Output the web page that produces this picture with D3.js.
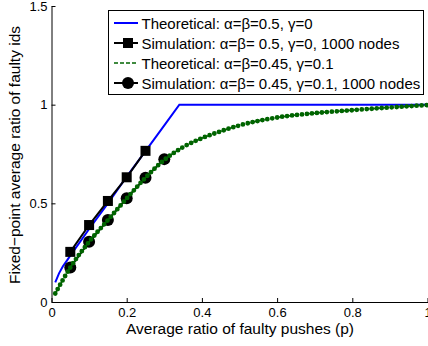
<!DOCTYPE html>
<html>
<head>
<meta charset="utf-8">
<script src="https://cdn.jsdelivr.net/npm/d3@7"></script>
<style>
  body { margin: 0; background: #fff; }
  svg { display: block; font-family: "Liberation Sans", Arial, Helvetica, sans-serif; }
</style>
</head>
<body>
<svg id="chart" width="428" height="346"></svg>
<script>
// values
var xTicks = [0, 0.2, 0.4, 0.6, 0.8, 1]
var yTicks = [0, 0.5, 1, 1.5]

// theoretical, alpha=beta=0.5, gamma=0
var theoryA = [
  [0.01, 0.10], [0.02, 0.145], [0.03, 0.18], [0.04, 0.207], [0.05, 0.235],
  [0.1, 0.37], [0.15, 0.50], [0.2, 0.635], [0.25, 0.765], [0.3, 0.895],
  [0.34, 1.0], [1.0, 1.0]
]
// simulation, alpha=beta=0.5, gamma=0
var simA = [
  [0.05, 0.254], [0.1, 0.39], [0.15, 0.512], [0.2, 0.632], [0.25, 0.766]
]
// theoretical, alpha=beta=0.45, gamma=0.1
var theoryB = [
  [0.01, 0.043], [0.05, 0.175], [0.1, 0.305], [0.15, 0.415], [0.2, 0.525],
  [0.25, 0.63], [0.3, 0.72], [0.35, 0.785], [0.4, 0.83], [0.45, 0.865],
  [0.5, 0.895], [0.6, 0.935], [0.7, 0.957], [0.8, 0.972], [0.9, 0.986],
  [1.0, 0.998]
]
// simulation, alpha=beta=0.45, gamma=0.1
var simB = [
  [0.05, 0.175], [0.1, 0.305], [0.15, 0.415], [0.2, 0.526], [0.25, 0.63], [0.3, 0.724]
]

var legendLabels = [
  'Theoretical: \u03b1=\u03b2=0.5, \u03b3=0',
  'Simulation: \u03b1=\u03b2= 0.5, \u03b3=0, 1000 nodes',
  'Theoretical: \u03b1=\u03b2=0.45, \u03b3=0.1',
  'Simulation: \u03b1=\u03b2= 0.45, \u03b3=0.1, 1000 nodes'
]

var green = '#006400'
var svg = d3.select('#chart')

var x = d3.scaleLinear().domain([0, 1]).range([51.5, 427.5])
var y = d3.scaleLinear().domain([0, 1.5]).range([302, 6])

var line = d3.line()
  .x(function (d) { return x(d[0]) })
  .y(function (d) { return y(d[1]) })

var smooth = d3.line()
  .curve(d3.curveMonotoneX)
  .x(function (d) { return x(d[0]) })
  .y(function (d) { return y(d[1]) })

// axes
svg.append('g')
  .attr('transform', 'translate(0,' + y(0) + ')')
  .call(d3.axisBottom(x).tickValues(xTicks).tickFormat(d3.format('~g'))
    .tickSizeInner(-4).tickSizeOuter(0).tickPadding(6))

svg.append('g')
  .attr('transform', 'translate(' + x(0) + ',0)')
  .call(d3.axisLeft(y).tickValues(yTicks).tickFormat(d3.format('~g'))
    .tickSizeInner(-4).tickSizeOuter(0).tickPadding(4))

svg.selectAll('.domain').attr('stroke', '#000')
svg.selectAll('.tick line').attr('stroke', '#000')
svg.selectAll('.tick text').attr('fill', '#000').attr('font-size', 13)
  .attr('font-family', '"Liberation Sans", Arial, sans-serif')

// blue theoretical
svg.append('path')
  .attr('d', line(theoryA))
  .attr('fill', 'none')
  .attr('stroke', '#0000ff')
  .attr('stroke-width', 2)

// squares
svg.append('path')
  .attr('d', line(simA))
  .attr('fill', 'none')
  .attr('stroke', '#000')
  .attr('stroke-width', 2)

svg.selectAll('.sq').data(simA)
  .enter().append('rect')
    .attr('class', 'sq')
    .attr('x', function (d) { return x(d[0]) - 5 })
    .attr('y', function (d) { return y(d[1]) - 5 })
    .attr('width', 10)
    .attr('height', 10)
    .attr('fill', '#000')

// circles
svg.append('path')
  .attr('d', line(simB))
  .attr('fill', 'none')
  .attr('stroke', '#000')
  .attr('stroke-width', 2)

svg.selectAll('.ci').data(simB)
  .enter().append('circle')
    .attr('class', 'ci')
    .attr('cx', function (d) { return x(d[0]) })
    .attr('cy', function (d) { return y(d[1]) })
    .attr('r', 6)
    .attr('fill', '#000')

// green theoretical: dashed line with dot markers along it
svg.append('path')
  .attr('d', smooth(theoryB))
  .attr('fill', 'none')
  .attr('stroke', green)
  .attr('stroke-width', 1.5)
  .attr('stroke-dasharray', '4,2')

svg.append('path')
  .attr('d', smooth(theoryB))
  .attr('fill', 'none')
  .attr('stroke', green)
  .attr('stroke-width', 4.8)
  .attr('stroke-linecap', 'round')
  .attr('stroke-dasharray', '0,5')

// axis labels
svg.append('text')
  .attr('x', 240)
  .attr('y', 334)
  .attr('text-anchor', 'middle')
  .attr('font-size', 15.5)
  .text('Average ratio of faulty pushes (p)')

svg.append('text')
  .attr('transform', 'translate(20,155) rotate(-90)')
  .attr('text-anchor', 'middle')
  .attr('font-size', 15.5)
  .text('Fixed\u2212point average ratio of faulty ids')

// legend
var legend = svg.append('g')

legend.append('rect')
  .attr('x', 108.5)
  .attr('y', 10.5)
  .attr('width', 315)
  .attr('height', 84)
  .attr('fill', '#fff')
  .attr('stroke', '#000')

var rows = legend.selectAll('.row').data(legendLabels)
  .enter().append('g')
    .attr('class', 'row')
    .attr('transform', function (d, i) { return 'translate(0,' + (23 + i * 20) + ')' })

rows.append('line')
  .attr('x1', 114).attr('x2', 138)
  .attr('y1', 0).attr('y2', 0)
  .attr('stroke', function (d, i) { return i === 0 ? '#0000ff' : i === 2 ? green : '#000' })
  .attr('stroke-width', function (d, i) { return i === 2 ? 1.5 : 2 })
  .attr('stroke-dasharray', function (d, i) { return i === 2 ? '4,2' : null })

rows.filter(function (d, i) { return i === 1 })
  .append('rect')
    .attr('x', 123).attr('y', -5)
    .attr('width', 10).attr('height', 10)
    .attr('fill', '#000')

rows.filter(function (d, i) { return i === 3 })
  .append('circle')
    .attr('cx', 128).attr('cy', 0).attr('r', 6)
    .attr('fill', '#000')

rows.append('text')
  .attr('x', 141.5)
  .attr('y', 5.5)
  .attr('font-size', 15)
  .text(function (d) { return d })
</script>
</body>
</html>
